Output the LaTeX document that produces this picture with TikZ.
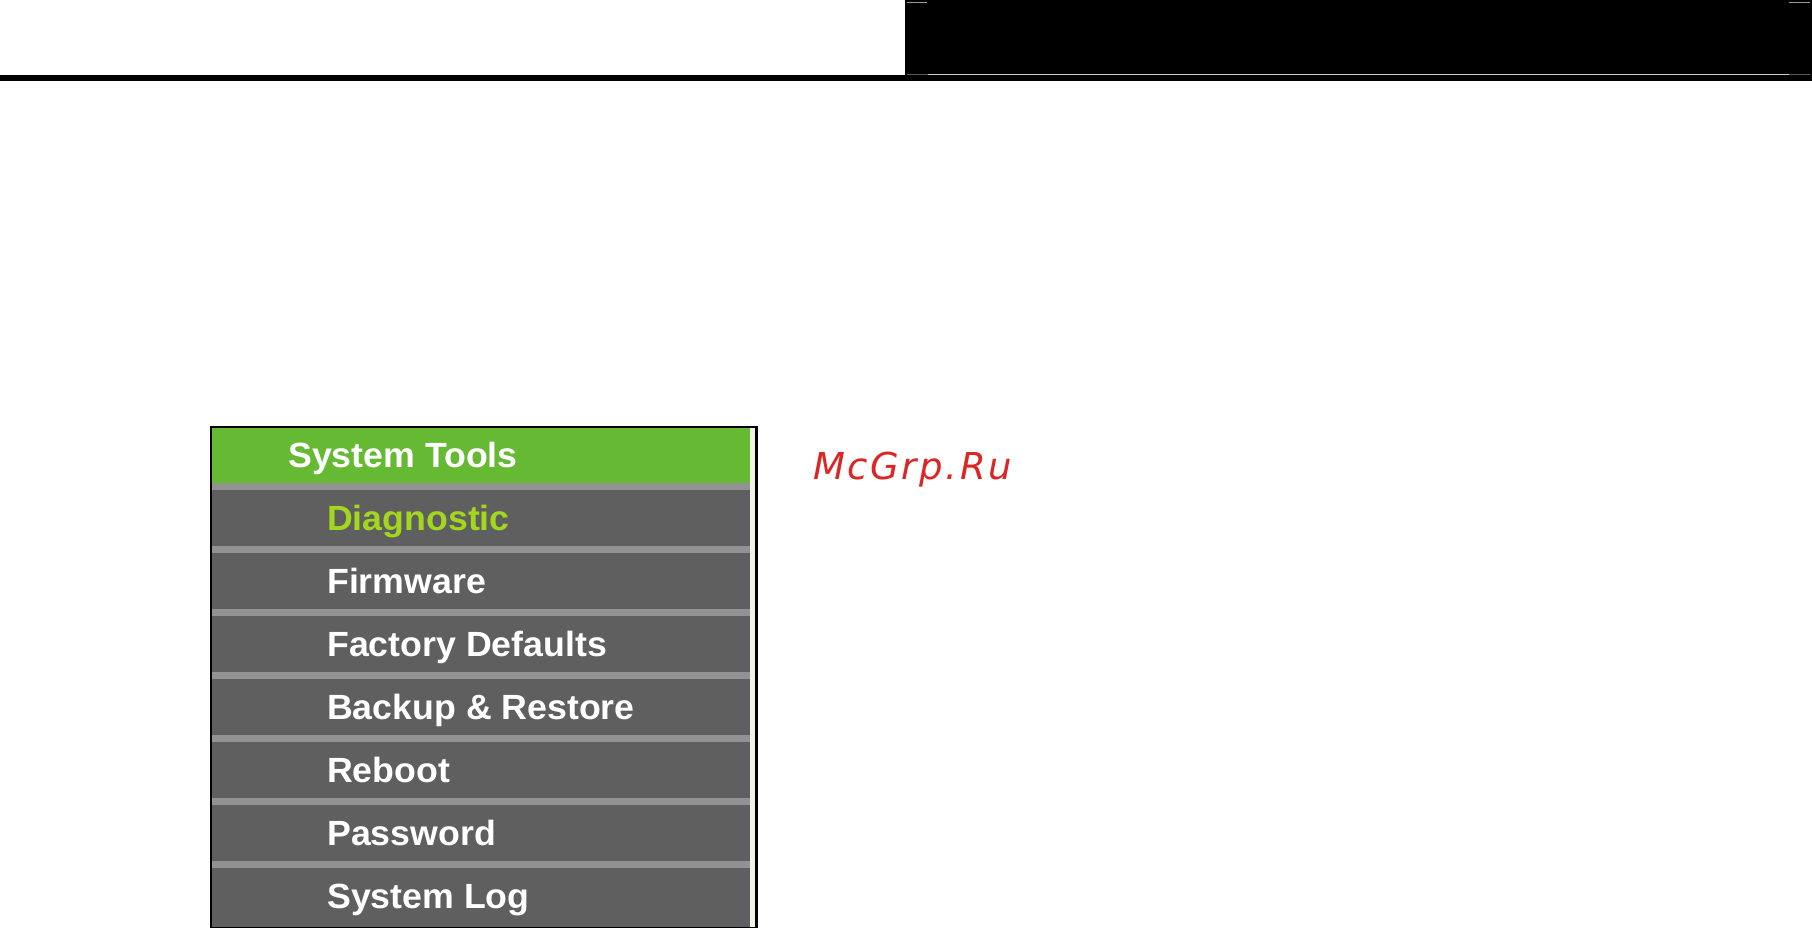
\documentclass[tikz,border=0pt]{standalone}
\usepackage{fontspec}
\setmainfont{Liberation Sans}
\newfontfamily\wmfont[LetterSpace=7]{DejaVu Sans}
\definecolor{menugreen}{HTML}{66B933}
\definecolor{menugrey}{HTML}{5F5F5F}
\definecolor{sepgrey}{HTML}{929292}
\definecolor{diaggreen}{HTML}{A2D71E}
\definecolor{strip}{HTML}{F2F2E6}
\definecolor{wmred}{HTML}{DC2626}
\tikzset{
  menutext/.style={anchor=base west,inner sep=0pt,text=white,font=\fontsize{35}{35}\selectfont\bfseries,xscale=1.02},
  sepline/.style={fill=sepgrey,draw=none},
}
\begin{document}
\begin{tikzpicture}[x=1pt,y=-1pt]
\useasboundingbox (0,0) rectangle (1812,928);
\fill[white] (0,0) rectangle (1812,928);
% header
\fill[black] (905,0) rectangle (1812,75);
\fill[black] (0,75) rectangle (1812,81);
\fill[gray!80] (907,1.8) rectangle (927,3.2);
\fill[gray!80] (1789,1.8) rectangle (1810,3.2);
\fill[gray!70!black] (907,73.8) rectangle (928,75.2);
\fill[gray!40] (928,73.8) rectangle (1789,75.2);
\fill[gray!70!black] (1789,73.8) rectangle (1810,75.2);
% menu
\fill[black] (210,426) rectangle (757.5,928);
\fill[strip] (212,428) rectangle (755,926.5);
\fill[menugrey] (212,483) rectangle (750,926.5);
\fill[menugreen] (212,428) rectangle (750,483.5);
\foreach \y in {483,546,609,672,735,798,861}
  \fill[sepline] (212,\y) rectangle (750,\y+6.5);
\node[menutext] (tools) at (288,467) {System Tools};
\node[menutext,text=diaggreen] (diag) at (327,530) {Diagnostic};
\node[menutext] (firm) at (327,593) {Firmware};
\node[menutext] (fact) at (327,656) {Factory Defaults};
\node[menutext] (back) at (327,719) {Backup \& Restore};
\node[menutext] (reboot) at (327,782) {Reboot};
\node[menutext] (pass) at (327,845) {Password};
\node[menutext] (log) at (327,908) {System Log};
% watermark
\node[anchor=base west,inner sep=0pt,text=wmred,font=\fontsize{37}{37}\selectfont\wmfont\itshape] (mark) at (813,479) {McGrp.Ru};
\end{tikzpicture}
\end{document}
